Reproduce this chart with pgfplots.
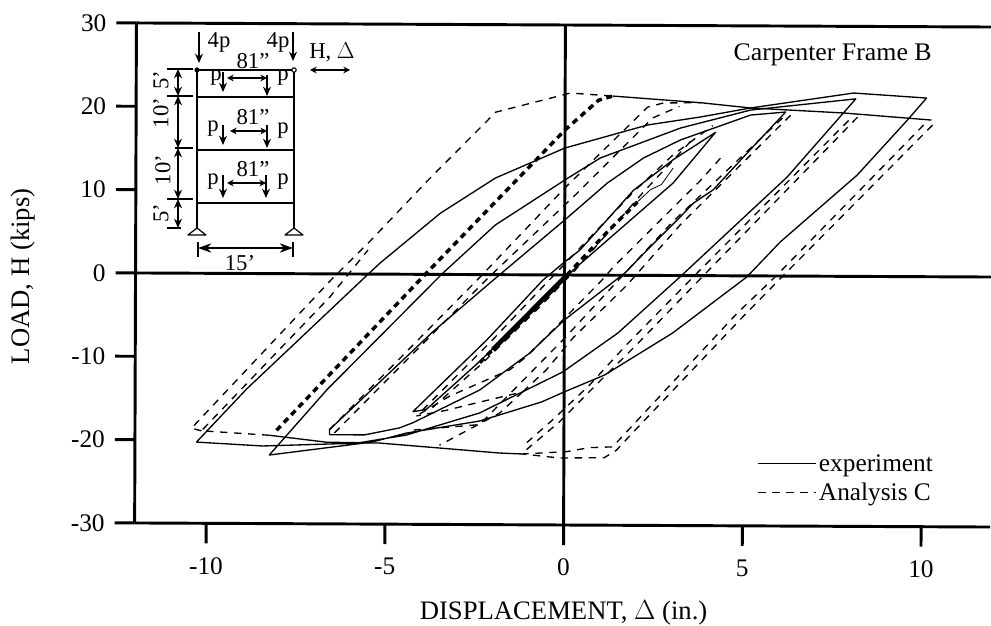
\documentclass[border=0pt]{standalone}
\usepackage{pgfplots}
\pgfplotsset{compat=1.18}
\usepackage{fontspec}
\setmainfont{Liberation Serif}
\usetikzlibrary{arrows.meta}
\newcommand{\fa}{\fontsize{19}{22}\selectfont}
\newcommand{\fl}{\fontsize{20}{23}\selectfont}
\newcommand{\fb}{\fontsize{17}{20}\selectfont}
\tikzset{
 sol/.style={black,line width=1pt,line join=round},
 dsh/.style={black,line width=1pt,dash pattern=on 5.5pt off 5pt},
 hvy/.style={black,line width=2.6pt,dash pattern=on 4.5pt off 3.5pt},
 arw/.style={line width=0.9pt,-{Stealth[length=7pt,width=6pt]}},
 dbl/.style={line width=0.9pt,{Stealth[length=5pt,width=5pt]}-{Stealth[length=5pt,width=5pt]}},
 ax/.style={black,line width=2.2pt},
}
\begin{document}
\begin{tikzpicture}
\path[use as bounding box] (0,0) rectangle (743.25pt,468.75pt);
\begin{axis}[
 anchor=origin, at={(423.375pt,262.5pt)},
 x={(26.81pt,-0.1275pt)}, y={(0.0225pt,6.25pt)},
 xmin=-12, xmax=11.93, ymin=-30, ymax=30,
 axis lines=left, axis line style={-,ax},
 tick align=outside, major tick length=15pt,
 tick style={ax},
 xtick={-10,-5,0,5,10}, xticklabels={-10,-5,0,5,10},
 ytick={-30,-20,-10,0,10,20,30}, yticklabels={-30,-20,-10,0,10,20,30},
 ticklabel style={font=\fa},
 x tick label style={yshift=-7pt},
 y tick label style={xshift=-4pt},
 xlabel={DISPLACEMENT, $\Delta$ (in.)}, ylabel={LOAD, H (kips)},
 label style={font=\fl},
 xlabel style={at={(axis cs:0,-30)},anchor=north,yshift=-53pt},
 ylabel style={at={(axis cs:-12,-0.4)},anchor=south,rotate=0,yshift=72pt},
 legend style={at={(axis cs:5.42,-21.1)},anchor=north west,draw=none,fill=none,font=\fa,
   row sep=3pt,inner sep=0pt,outer sep=0pt},
 legend cell align=left,
 legend image code/.code={\draw[#1] (0pt,0pt) -- (37pt,0pt); \path (0pt,0pt) -- (43pt,0pt);},
 clip=false,
]
\addplot[sol] coordinates {(-10.28,-20.26)(-8.88,-13.86)(-5.52,-0.12)(-5.16,1.33)(-3.48,7.34)(-1.94,11.6)(0,15.24)(2.31,18.05)(3.79,19.04)(5.19,20.15)(8.07,22.0)(10.11,21.44)(9.58,18.8)(8.18,12.17)(6.03,4.08)(5.1,-0.13)(3.03,-6.9)(1.13,-11.98)(0,-14.04)(-0.63,-15.25)(-2.36,-17.57)(-4.41,-19.06)(-5.36,-20.15)(-8.24,-21.77)(-6.64,-13.93)(-3.4,0.17)(-1.94,5.96)(0,11.4)(0.99,14.06)(3.23,17.7)(5.19,19.9)(8.13,21.3)(6.22,11.89)(3.23,-0.17)(1.5,-6.93)(-0.04,-11.64)(-2.36,-16.6)(-4.41,-19.3)(-5.8,-20.3)(-8.43,-20.69)(-10.28,-20.26)};
\addlegendentry{experiment}
\addplot[dsh] coordinates {(10.28,18.2)(6.08,-0.12)(4.99,-4.93)(1.92,-18.9)(1.47,-21.0)(1.13,-21.9)(-0.13,-21.96)(-1.16,-21.5)};
\addlegendentry{Analysis C}
\addplot[sol,forget plot] coordinates {(-6.56,-19.3)(-6.56,-18.7)(-3.68,-6.9)(-1.89,-0.28)(0,6.6)(1.19,11.06)(2.2,14.09)(3.23,16.27)(5.19,19.3)(6.17,19.68)(5.1,14.75)(4.15,10.3)(3.6,8.7)(3.23,7.03)(2.31,3.05)(1.69,0.28)(0,-5.4)(-0.97,-9.4)(-2.36,-13.85)(-4.24,-17.84)(-4.6,-18.44)(-5.58,-19.3)(-6.56,-19.3)};
\addplot[sol,forget plot] coordinates {(-4.23,-16.5)(-2.17,-7.85)(-0.6,-0.61)(0,1.56)(0.43,3.0)(1.92,10.2)(3.03,13.9)(4.21,17.2)(3.03,11.1)(0.24,0.6)(0,-0.6)(-1.16,-5.4)(-2.36,-10.4)(-3.85,-16.2)(-4.23,-16.5)};
\addplot[black,line width=3.4pt,forget plot] coordinates {(-2.0,-9.0)(0.07,0)};
\addplot[hvy,forget plot] coordinates {(-2.36,-10.57)(-2.0,-9.0)};
\addplot[hvy,forget plot] coordinates {(0.07,0)(1.19,5.18)(2.03,8.8)};
\addplot[black,line width=0.6pt,forget plot] coordinates {(2.03,8.8)(2.4,10.3)(2.7,10.9)(3.03,12.9)};
\addplot[sol,forget plot] coordinates {(-1.16,-21.5)(-1.8,-21.4)(-5.16,-20.27)(-6.64,-20.2)(-8.24,-19.4)};
\addplot[sol,forget plot] coordinates {(1.33,21.5)(3.79,20.75)(5.19,20.15)(7.79,19.6)(10.25,18.8)};
\addplot[dsh,forget plot] coordinates {(-8.24,-19.4)(-10.14,-18.9)(-6.56,-2.76)(-5.5,2.88)};
\addplot[dsh,forget plot] coordinates {(-10.14,-18.9)(-10.42,-18.6)(-6.48,-0.5)(-5.44,3.96)(-3.82,11.33)(-1.94,19.5)(0.15,21.84)(1.33,21.5)};
\addplot[dsh,forget plot] coordinates {(10.03,18.2)(5.89,-0.12)(4.83,-4.5)(1.75,-18.8)(1.36,-20.6)(0.71,-20.7)(0.07,-21.2)(-1.16,-21.5)};
\addplot[dsh,forget plot] coordinates {(8.18,19.1)(3.85,-0.16)(2.03,-8.3)(0.91,-13.1)(-0.13,-17.64)(-0.97,-20.7)(-1.16,-21.4)};
\addplot[dsh,forget plot] coordinates {(7.93,18.7)(3.6,-0.17)(1.75,-8.3)(0.71,-13.2)(-0.32,-17.4)(-1.16,-20.6)};
\addplot[dsh,forget plot] coordinates {(6.31,19.3)(3.23,6.07)(1.75,-1.17)(0.24,-7.56)(-0.5,-11.4)(-1.16,-14.06)(-2.36,-15.3)(-3.29,-16.3)(-4.13,-17)};
\addplot[dsh,forget plot] coordinates {(-1.16,-14.06)(-1.8,-16.6)(-3.48,-20.5)};
\addplot[dsh,forget plot] coordinates {(6.08,18.96)(3.01,6.4)(-0.04,-7.8)(-2.36,-18)(-4.23,-18.7)};
\addplot[dsh,forget plot] coordinates {(4.35,14.1)(3.79,11.4)(3.09,8.4)(1.36,0.96)(1.05,-0.58)(-0.04,-5.4)(-1.05,-9.8)(-1.52,-11.4)(-3.2,-14.6)(-4.13,-17)};
\addplot[dsh,forget plot] coordinates {(-3.96,-16.3)(-2,-7.8)(-0.6,-1.4)(0,1.3)(1.92,10)(3.03,14.5)(4.13,18)};
\addplot[dsh,forget plot] coordinates {(-3.68,-16)(-2.28,-10.6)(-0.68,-3.8)(0.3,0.6)(2.2,10)(3.6,16.5)};
\addplot[dsh,forget plot] coordinates {(-6.56,-18.7)(-2.36,-0.29)(0,10.44)(2.31,20.2)(2.75,20.7)(3.79,20.75)};
\addplot[dsh,forget plot] coordinates {(-6.42,-19.08)(-2.14,-0.41)(0.29,9.6)(2.45,18.9)(3.2,20.3)};
\addplot[hvy,forget plot] coordinates {(-8.04,-18.8)(-4.1,-0.92)(0,17.4)(0.94,21.0)(1.33,21.5)};
\draw[ax] (axis cs:-12,30) -- (axis cs:11.93,30);
\draw[ax] (axis cs:-12,0) -- (axis cs:11.93,0);
\draw[ax] (axis cs:0,-30) -- (axis cs:0,30);
\node[font=\fa,anchor=center,xscale=1.02] at (axis cs:7.48,26.6) {Carpenter Frame B};
\end{axis}
\begin{scope}[x=0.75pt,y=-0.75pt,shift={(0pt,468.75pt)}]
 \draw[line width=1pt] (197,70) -- (197,228);
 \draw[line width=1pt] (294,70) -- (294,228);
 \draw[line width=0.8pt] (197,70) -- (294,70);
 \foreach \yy in {97,150,203} \draw[line width=1.5pt] (197,\yy) -- (295,\yy);
 \fill (197,70) circle (2.6);
 \draw[fill=white,line width=0.8pt] (294,70) circle (2.2);
 \foreach \xx in {197,294} \draw[line width=0.9pt,line join=round] (\xx-9,235) -- (\xx,228) -- (\xx+9,235) -- cycle;
 \draw[line width=0.8pt] (167,69) -- (193,69) (167,96) -- (193,96) (175,148) -- (193,148) (167,199) -- (193,199) (167,228) -- (181,228);
 \foreach \a/\b in {69/96,96/148,148/199,199/228}
   \draw[line width=0.9pt,{Stealth[length=7pt,width=6pt]}-{Stealth[length=7pt,width=6pt]}] (178,\a) -- (178,\b);
 \draw[arw] (199,32) -- (199,63);
 \draw[arw] (293,32) -- (293,61);
 \draw[dbl] (310,70) -- (350,70);
 \foreach \xa/\ya/\xb/\yb in {223/72/223/92,267/75/267/96,223/125/223/145,267/125/267/148,223/175/223/198,266/175/266/198}
   \draw[arw] (\xa,\ya) -- (\xb,\yb);
 \draw[dbl] (227,78) -- (267,78);
 \draw[dbl] (230,131) -- (267,131);
 \draw[dbl] (227,183) -- (266,183);
 \draw[line width=0.9pt] (198,242) -- (198,257) (293,242) -- (293,257);
 \draw[line width=0.9pt,{Stealth[length=10pt,width=7pt]}-{Stealth[length=10pt,width=7pt]}] (198,248) -- (293,248);
 \begin{scope}[every node/.style={font=\fb,inner sep=0pt}]
  \node at (219,42) {4p}; \node at (278,42) {4p};
  \node at (253,61) {81"}; \node at (253,117) {81"}; \node at (253,169) {81"};
  \node at (332,52) {H, $\Delta$};
  \node at (216,78) {p}; \node at (283,78) {p};
  \node at (213,129) {p}; \node at (283,131) {p};
  \node at (213,182) {p}; \node at (283,182) {p};
  \node at (240,263) {15'};
  \node[rotate=90] at (161,80) {5'};
  \node[rotate=90] at (161,113) {10'};
  \node[rotate=90] at (163,170) {10'};
  \node[rotate=90] at (161,213) {5'};
 \end{scope}
\end{scope}
\end{tikzpicture}
\end{document}
